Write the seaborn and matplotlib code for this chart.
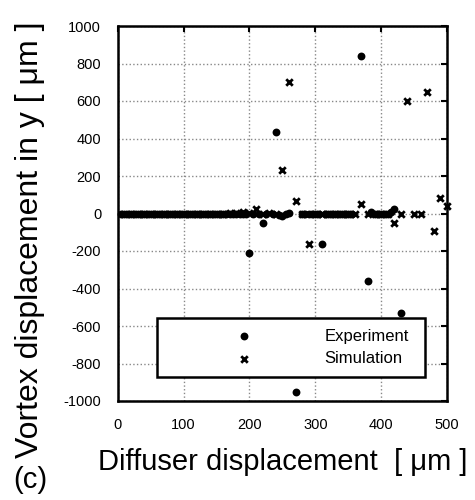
import matplotlib
matplotlib.use("Agg")
import matplotlib.pyplot as plt
import seaborn as sns
import pandas as pd

# Experiment data (diffuser displacement [um], vortex displacement in y [um])
exp_x = [5, 10, 15, 20, 25, 30, 35, 40, 45, 50, 55, 60, 65, 70, 75, 80, 85, 90, 95, 100,
         105, 110, 115, 120, 125, 130, 135, 140, 145, 150, 155, 160, 165, 170, 175, 180, 185, 190, 195,
         200, 205, 215, 220, 225, 235, 240, 245, 250, 255, 260, 270, 280, 285, 290, 295, 300, 305, 310,
         315, 320, 325, 330, 335, 340, 345, 350, 355, 370, 380, 385, 390, 395, 400, 405, 410, 415, 420, 430]
exp_y = [0, 0, 0, 0, 0, 0, 0, 0, 0, 0, 0, 0, 0, 0, 0, 0, 0, 0, 0, 0,
         0, 0, 0, 0, 0, 0, 0, 0, 0, 0, 0, 0, 0, 0, 0, 0, 0, 0, 0,
         -210, 0, -5, -50, 0, -5, 435, -10, -15, 0, 5, -950, 0, 0, 0, 0, 0, 0, -165,
         0, 0, 0, 0, 0, 0, 0, 0, 0, 840, -360, 10, 0, 0, 0, 0, 0, 10, 25, -530]

# Simulation data
sim_x = [10, 20, 30, 40, 50, 60, 70, 80, 90, 100, 110, 120, 130, 140, 150, 160, 170, 180, 190, 200,
         210, 220, 230, 240, 250, 260, 270, 280, 290, 300, 310, 320, 330, 340, 350, 360, 370, 380,
         390, 400, 410, 420, 430, 440, 450, 460, 470, 480, 490, 500]
sim_y = [0, 0, 0, 0, 0, 0, 0, 0, 0, 0, 0, 0, 0, 0, 0, 0, 5, 5, 10, 5,
         25, 0, 5, 0, 230, 700, 65, 0, -160, 0, 0, 0, 0, 0, 0, 0, 50, 0,
         0, 0, 0, -50, 0, 600, 0, -5, 650, -95, 85, 40]

x_ticks = [0, 100, 200, 300, 400, 500]
y_ticks = [-1000, -800, -600, -400, -200, 0, 200, 400, 600, 800, 1000]

sns.set_theme(style="white")
plt.rcParams["font.family"] = ["Liberation Sans", "DejaVu Sans"]
plt.rcParams["axes.unicode_minus"] = False
plt.rcParams["text.color"] = "black"
plt.rcParams["axes.labelcolor"] = "black"
plt.rcParams["xtick.color"] = "black"
plt.rcParams["ytick.color"] = "black"

df_exp = pd.DataFrame({"x": exp_x, "y": exp_y})
df_sim = pd.DataFrame({"x": sim_x, "y": sim_y})

fig = plt.figure(figsize=(4.75, 5.0), dpi=100)
ax = fig.add_axes([0.248, 0.198, 0.693, 0.750])

sns.scatterplot(data=df_exp, x="x", y="y", ax=ax, marker="o", s=32, color="black",
                edgecolor="black", linewidth=0, label="Experiment", zorder=3, clip_on=False)
sns.scatterplot(data=df_sim, x="x", y="y", ax=ax, marker="x", s=22, color="black",
                linewidth=2, label="Simulation", zorder=3, clip_on=False)

ax.set_xlim(0, 500)
ax.set_ylim(-1000, 1000)
ax.set_xticks(x_ticks)
ax.set_yticks(y_ticks)
ax.set_xticklabels([str(v) for v in x_ticks])
ax.set_yticklabels([str(v) for v in y_ticks])

ax.grid(True, linestyle=":", color="#888888", linewidth=1)
ax.tick_params(axis="both", which="both", direction="in", length=4, width=1.5,
               labelsize=10.5, colors="black", labelcolor="black", top=True, right=True)
ax.tick_params(axis="x", pad=12)
ax.tick_params(axis="y", pad=12)
for sp in ax.spines.values():
    sp.set_visible(True)
    sp.set_color("black")
    sp.set_linewidth(1.8)

ax.set_xlabel("Diffuser displacement  [ \u03bcm ]", fontsize=21, color="black")
ax.xaxis.set_label_coords(0.5, -0.125)
ax.set_ylabel("Vortex displacement in y [ \u03bcm ]", fontsize=23, color="black")
ax.yaxis.set_label_coords(-0.222, 0.43)

fig.text(0.027, 0.012, "(c)", fontsize=21, ha="left", va="bottom", color="black")

leg = ax.legend(loc="lower left", bbox_to_anchor=(0.119, 0.064, 0.814, 0.165), mode="expand",
                frameon=True, fancybox=False, fontsize=12, borderpad=0.65,
                handlelength=9.2, handletextpad=0.2, labelspacing=0.44,
                borderaxespad=0)
leg.get_frame().set_edgecolor("black")
leg.get_frame().set_linewidth(1.8)
leg.get_frame().set_alpha(1)
for t in leg.get_texts():
    t.set_color("black")

fig.savefig("out.png", dpi=100)
